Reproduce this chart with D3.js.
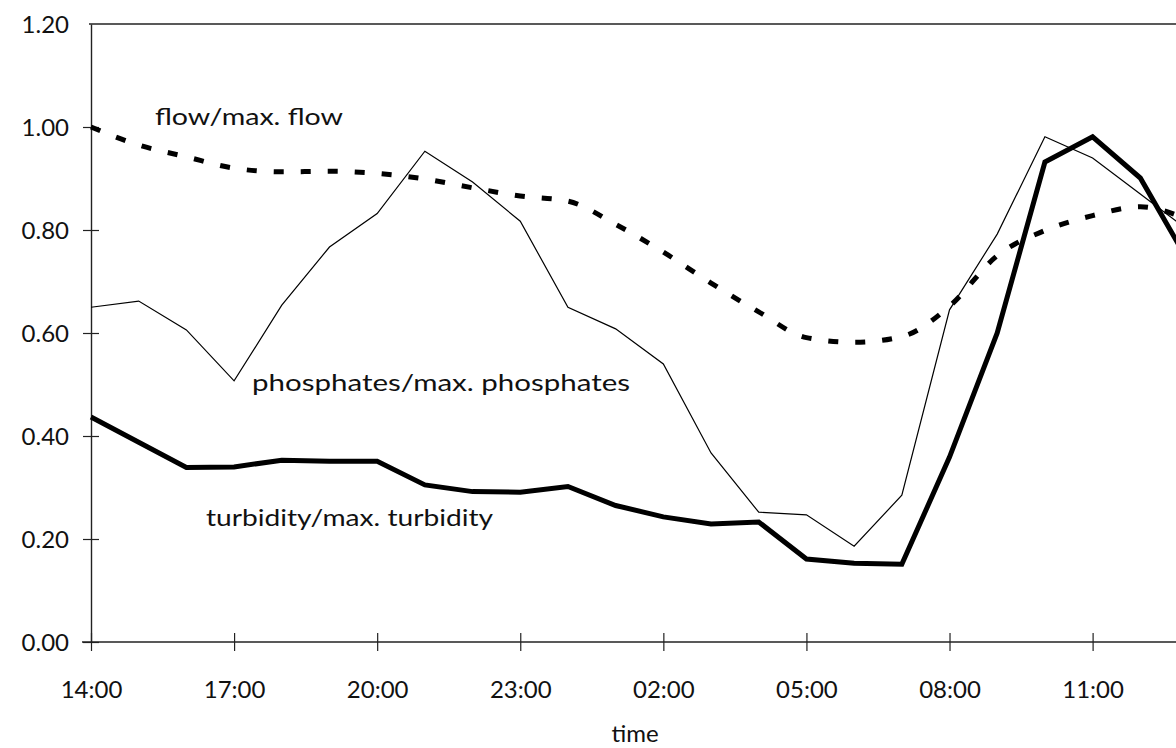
<!DOCTYPE html>
<html>
<head>
<meta charset="utf-8">
<script src="https://cdn.jsdelivr.net/npm/d3@7"></script>
<style>
  html, body { margin: 0; padding: 0; background: #fff; }
  svg { display: block; }
  text { font-family: "Lato", "DejaVu Sans", sans-serif; fill: #111; }
</style>
</head>
<body>
<svg id="chart" width="1176" height="748"></svg>
<script>
// Hourly samples, 14:00 through 13:00 the next day
const hours = ["14:00","15:00","16:00","17:00","18:00","19:00","20:00","21:00",
               "22:00","23:00","00:00","01:00","02:00","03:00","04:00","05:00",
               "06:00","07:00","08:00","09:00","10:00","11:00","12:00","13:00"];

// Labelled ticks on the time axis (every 3 hours)
const timeTicks = ["14:00","17:00","20:00","23:00","02:00","05:00","08:00","11:00"];

// Normalised ratios (value / maximum value)
const flow = [1.000, 0.965, 0.942, 0.920, 0.913, 0.914, 0.910, 0.899,
              0.882, 0.866, 0.856, 0.811, 0.757, 0.697, 0.641, 0.591,
              0.582, 0.593, 0.652, 0.750, 0.799, 0.828, 0.845, 0.820];

const phosphates = [0.650, 0.662, 0.606, 0.507, 0.654, 0.767, 0.832, 0.953,
                    0.893, 0.817, 0.650, 0.608, 0.540, 0.367, 0.252, 0.247,
                    0.186, 0.285, 0.645, 0.792, 0.981, 0.940, 0.870, 0.800];

const turbidity = [0.437, 0.388, 0.339, 0.340, 0.353, 0.351, 0.351, 0.305,
                   0.292, 0.291, 0.302, 0.265, 0.243, 0.229, 0.233, 0.161,
                   0.153, 0.151, 0.359, 0.600, 0.932, 0.981, 0.901, 0.740];

// Value axis ticks
const yTicks = [0, 0.2, 0.4, 0.6, 0.8, 1.0, 1.2];

const svg = d3.select("#chart");

const x = d3.scalePoint().domain(hours).range([91, 1188]);
const y = d3.scaleLinear().domain([0, 1.2]).range([642, 24]);

// Plot clipped at the right edge of the page
svg.append("defs").append("clipPath").attr("id", "plotClip")
  .append("rect").attr("x", 0).attr("y", 0).attr("width", 1176).attr("height", 748);

const axisColor = "#222";

// Top frame line at the axis maximum
svg.append("line")
  .attr("x1", x(hours[0]) - 2).attr("x2", 1176)
  .attr("y1", y(1.2)).attr("y2", y(1.2))
  .attr("stroke", axisColor).attr("stroke-width", 1.4);

// Y axis with ticks crossing the axis line
const yAxis = svg.append("g").attr("transform", `translate(${x(hours[0])},0)`)
  .call(d3.axisLeft(y).tickValues(yTicks).tickFormat(d3.format(".2f"))
        .tickSize(0).tickPadding(22));
yAxis.select(".domain").attr("stroke", axisColor).attr("stroke-width", 1.4);
yAxis.selectAll(".tick text").attr("font-size", 24).attr("dy", "0.35em")
  .style("font-family", "Lato, sans-serif").attr("fill", "#111");
yAxis.selectAll(".tick").filter(d => d !== 1.2).append("line")
  .attr("x1", -8).attr("x2", 8).attr("stroke", axisColor).attr("stroke-width", 1.2);

// X axis with ticks crossing the axis line
const xAxis = svg.append("g").attr("transform", `translate(0,${y(0)})`)
  .call(d3.axisBottom(x).tickValues(timeTicks).tickSize(0).tickPadding(56));
xAxis.select(".domain").attr("stroke", axisColor).attr("stroke-width", 1.4)
  .attr("d", `M${x(hours[0]) - 9},0H1176`);
xAxis.selectAll(".tick text").attr("font-size", 24).attr("dy", "0")
  .style("font-family", "Lato, sans-serif").attr("fill", "#111");
xAxis.selectAll(".tick").append("line")
  .attr("y1", -9).attr("y2", 9).attr("stroke", axisColor).attr("stroke-width", 1.2);

// Axis title
svg.append("text").attr("x", 635).attr("y", 742)
  .attr("text-anchor", "middle").attr("font-size", 24).text("time");

const plot = svg.append("g").attr("clip-path", "url(#plotClip)");

const line = d3.line().x((d, i) => x(hours[i])).y(d => y(d));
const smooth = d3.line().x((d, i) => x(hours[i])).y(d => y(d)).curve(d3.curveMonotoneX);

// Flow: smooth heavy dashed curve
plot.append("path").datum(flow)
  .attr("d", smooth).attr("fill", "none").attr("stroke", "#000")
  .attr("stroke-width", 5).attr("stroke-dasharray", "10,17");

// Phosphates: thin solid line
plot.append("path").datum(phosphates)
  .attr("d", line).attr("fill", "none").attr("stroke", "#000")
  .attr("stroke-width", 1.2).attr("stroke-linejoin", "miter");

// Turbidity: heavy solid line
plot.append("path").datum(turbidity)
  .attr("d", line).attr("fill", "none").attr("stroke", "#000")
  .attr("stroke-width", 5).attr("stroke-linejoin", "miter");

// Series labels
const labels = [
  { text: "flow/max. flow", x: 155, y: 125, w: 188 },
  { text: "phosphates/max. phosphates", x: 252, y: 391, w: 378 },
  { text: "turbidity/max. turbidity", x: 206, y: 526, w: 287 }
];
svg.selectAll("text.series-label").data(labels).enter().append("text")
  .attr("class", "series-label")
  .attr("x", d => d.x).attr("y", d => d.y)
  .attr("font-size", 24)
  .attr("textLength", d => d.w).attr("lengthAdjust", "spacingAndGlyphs")
  .text(d => d.text);
</script>
</body>
</html>
